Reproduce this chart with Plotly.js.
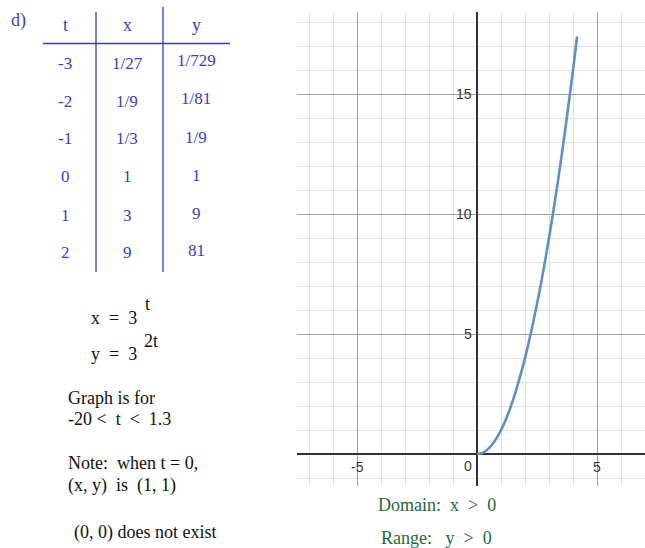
<!DOCTYPE html>
<html>
<head>
<meta charset="utf-8">
<script src="https://cdn.plot.ly/plotly-3.0.1.min.js"></script>
<style>html,body{margin:0;padding:0;background:#fff;}#chart{width:645px;height:548px;}</style>
</head>
<body>
<div id="chart"></div>
<script>
// Table data
const tVals = ['-3', '-2', '-1', '0', '1', '2'];
const xVals = ['1/27', '1/9', '1/3', '1', '3', '9'];
const yVals = ['1/729', '1/81', '1/9', '1', '9', '81'];
const headers = ['t', 'x', 'y'];

// Curve points (x = 3^t, y = 3^(2t), -20 < t < 1.3)
const curveX = [0, 0.25, 0.5, 0.75, 1, 1.25, 1.5, 2, 2.5, 3, 3.5, 4, 4.17];
const curveY = [0, 0.06, 0.25, 0.56, 1, 1.56, 2.25, 4, 6.25, 9, 12.25, 16, 17.4];

// Axis tick labels
const xTickVals = [-5, 5];
const xTickText = ['-5', '5'];
const yTickVals = [5, 10, 15];
const yTickText = ['5', '10', '15'];

// Side notes
const noteLines = ['Graph is for', '-20 <\u00a0 t\u00a0 <\u00a0 1.3', 'Note:\u00a0 when t = 0,', '(x, y)\u00a0 is\u00a0 (1, 1)', '(0, 0) does not exist'];
const domainText = 'Domain:\u00a0 x\u00a0 >\u00a0 0';
const rangeText = 'Range:\u00a0\u00a0 y\u00a0 >\u00a0 0';

const W = 645, H = 548;
const L = 297, R = 645, T = 12, B = 486;
const px = x => (x - L) / (R - L);
const py = y => (B - y) / (B - T);

const blue = '#3a3ad0';
const serif = "Liberation Serif";
const sans = "Liberation Sans";

const ann = [];
const shapes = [];

function txt(text, x, y, size, color, xanchor, family) {
  ann.push({text: text, x: px(x), y: py(y), xref: 'paper', yref: 'paper',
    showarrow: false, xanchor: xanchor || 'center', yanchor: 'middle',
    font: {family: family || serif, size: size, color: color}});
}
function line(x0, y0, x1, y1, color, w) {
  shapes.push({type: 'line', xref: 'paper', yref: 'paper', x0: px(x0), y0: py(y0), x1: px(x1), y1: py(y1),
    line: {color: color, width: w}});
}

// table
txt('d)', 18, 20, 18, blue);
const colX = [65, 127, 196];
const rowY = [63, 101, 139, 177, 215, 252];
headers.forEach((h, i) => txt(h, colX[i], 25, 18, blue));
tVals.forEach((v, i) => txt(v, colX[0], rowY[i], 17, blue));
xVals.forEach((v, i) => txt(v, colX[1], rowY[i], 17, blue));
yVals.forEach((v, i) => txt(v, colX[2], rowY[i] - 2, 17, blue));
line(43, 43.5, 230, 43.5, blue, 1.3);
line(96, 12, 96, 272, blue, 1.3);
line(163, 7, 163, 272, blue, 1.3);

// equations
txt('x\u00a0 =\u00a0 3', 89, 318, 18, '#111', 'left');
txt('t', 143, 304, 18, '#111', 'left');
txt('y\u00a0 =\u00a0 3', 89, 354, 18, '#111', 'left');
txt('2t', 142, 341, 18, '#111', 'left');

const noteY = [398, 419, 463, 485, 532];
const noteX = [66, 66, 66, 66, 72];
noteLines.forEach((s, i) => txt(s, noteX[i], noteY[i], 18, '#111', 'left'));

txt(domainText, 376, 505, 18, '#1d6b34', 'left');
txt(rangeText, 379, 538, 18, '#1d6b34', 'left');

// axis tick labels in data coordinates
const tickFont = {family: sans, size: 14, color: '#333'};
xTickVals.forEach((v, i) => ann.push({text: xTickText[i], x: v, y: 0, xref: 'x', yref: 'y', showarrow: false,
  xanchor: 'center', yanchor: 'top', yshift: -3, font: tickFont}));
yTickVals.forEach((v, i) => ann.push({text: yTickText[i], x: 0, y: v, xref: 'x', yref: 'y', showarrow: false,
  xanchor: 'right', yanchor: 'middle', xshift: -3, font: tickFont}));
ann.push({text: '0', x: 0, y: 0, xref: 'x', yref: 'y', showarrow: false,
  xanchor: 'right', yanchor: 'top', xshift: -3, yshift: -2, font: tickFont});

const trace = {x: curveX, y: curveY, type: 'scatter', mode: 'lines',
  line: {color: '#5b90cc', width: 2.6, shape: 'spline', smoothing: 1}, hoverinfo: 'skip'};

const axisCommon = {
  showticklabels: false, ticks: '', showline: false,
  showgrid: true, gridcolor: '#a0a0a0', gridwidth: 1,
  dtick: 5, tick0: 0,
  minor: {dtick: 1, tick0: 0, showgrid: true, gridcolor: '#e2e2e2', gridwidth: 1},
  zeroline: true, zerolinecolor: '#333', zerolinewidth: 2,
  fixedrange: true
};

const layout = {
  width: W, height: H,
  margin: {l: L, r: W - R, t: T, b: H - B, pad: 0},
  paper_bgcolor: '#fff', plot_bgcolor: '#fff',
  showlegend: false,
  xaxis: Object.assign({}, axisCommon, {range: [-7.5, 7.0]}),
  yaxis: Object.assign({}, axisCommon, {range: [-1.33, 18.42]}),
  annotations: ann,
  shapes: shapes
};

Plotly.newPlot('chart', [trace], layout, {staticPlot: true, displayModeBar: false});
</script>
</body>
</html>
